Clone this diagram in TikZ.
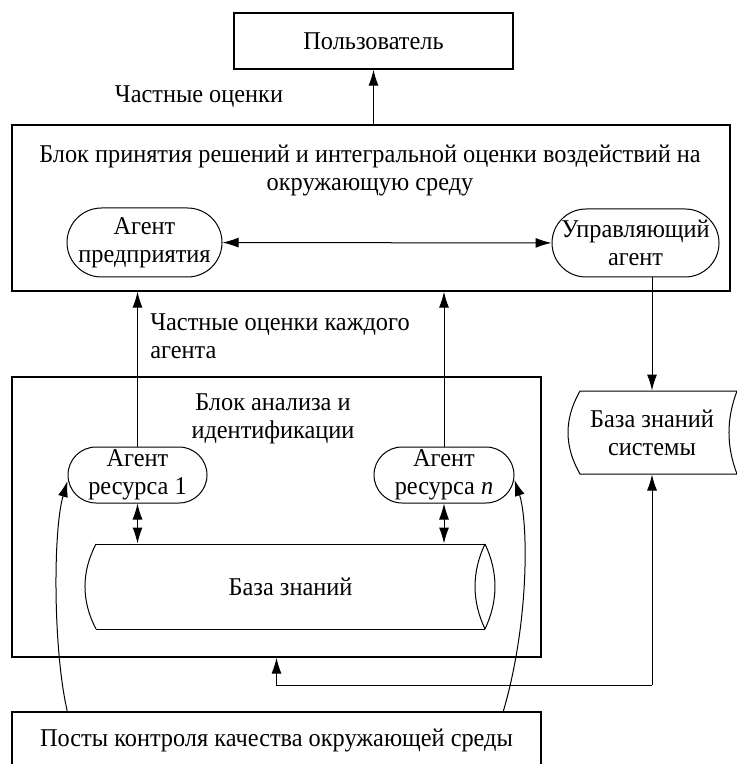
\documentclass[tikz,border=0pt]{standalone}
\usepackage{fontspec}
\setmainfont[FakeStretch=0.95]{Liberation Serif}
\usetikzlibrary{arrows.meta,calc}

\tikzset{
  block/.style={draw,rectangle,line width=0.7pt},
  agent/.style={draw,rectangle,rounded corners=#1,align=center,inner sep=1pt},
  caption/.style={align=center,inner sep=0pt}
}

\begin{document}
\begin{tikzpicture}[x=0.5pt,y=-0.5pt,line width=0.5pt,>={Latex[length=8pt,width=5pt]},
    font=\fontsize{12.8}{14}\selectfont]
        \useasboundingbox(0,0)rectangle(737,764);
        \node(user)at(373.5,41)[block,minimum width=139.5pt,minimum height=28pt]{Пользователь};
        \node(lblone)at(199,97)[caption]{Частные оценки};
        \node(decision)at(371,208)[block,minimum width=359pt,minimum height=83pt]{};
        \node(decisiontitle)at(370,171)[caption]{Блок принятия решений и интегральной оценки воздействий на\\окружающую среду};
        \node(ent)at(144.5,242.5)[agent=17.25pt,minimum width=77.5pt,minimum height=34.5pt]{Агент\\предприятия};
        \node(ctrl)at(635.5,243)[agent=17pt,minimum width=83.5pt,minimum height=34pt]{Управляющий\\агент};
        \node(lbltwo)at(280,336)[caption,align=left]{Частные оценки каждого\\агента};
        \node(analysis)at(276.5,517)[block,minimum width=264.5pt,minimum height=140pt]{};
        \node(analysistitle)at(273,418.5)[caption]{Блок анализа и\\идентификации};
        \node(res1)at(137.5,475)[agent=14pt,minimum width=69.5pt,minimum height=28pt]{Агент\\ресурса 1};
        \node(resn)at(444,475)[agent=14pt,minimum width=70pt,minimum height=28pt]{Агент\\ресурса \textit{n}};
        \node(kb)at(290.5,586.5)[minimum width=194.5pt,minimum height=42.5pt,inner sep=0pt]{База знаний};
        \node(kbs)at(652,432.5)[caption,minimum width=78.5pt,minimum height=41.5pt]{База знаний\\системы};
        \node(posts)at(276.5,740)[block,minimum width=264.5pt,minimum height=28pt]{Посты контроля качества окружающей среды};
        \coordinate(joint)at(652,685);
        % cylinder of the knowledge base
        \draw(96,544)--(485,544) (96,629)--(485,629);
        \draw(96,544)..controls(81.3,572)and(81.3,601)..(96,629);
        \draw(485,544)..controls(471.7,572)and(471.7,601)..(485,629);
        \draw(485,544)..controls(498.3,572)and(498.3,601)..(485,629);
        % stored data of the system
        \draw(580,391)--(737,391)..controls(726.3,419)and(726.3,446)..(737,474)--(580,474)
            ..controls(564,446)and(564,419)..cycle;
        \draw[->](user.south|-decision.north)--(user.south);
        \draw[<->](ent)--(ctrl);
        \draw[->](ctrl.south-|kbs.north)--(kbs.north);
        \draw[->](res1.north)--(res1.north|-decision.south);
        \draw[->](resn.north)--(resn.north|-decision.south);
        \draw[<->](res1.south)--(res1.south|-kb.north);
        \draw[<->](resn.south)--(resn.south|-kb.north);
        \draw[->](joint)--(kbs.south);
        \draw[->](joint)-|(analysis.south);
        \draw[->]($(posts.north west)+(56,0)$)..controls(53,650)and(53,530)..($(res1.west)+(0,6)$);
        \draw[->]($(posts.north west)+(492,0)$)..controls(530,620)and(528,520)..($(resn.east)+(0,5)$);
    \end{tikzpicture}
\end{document}
